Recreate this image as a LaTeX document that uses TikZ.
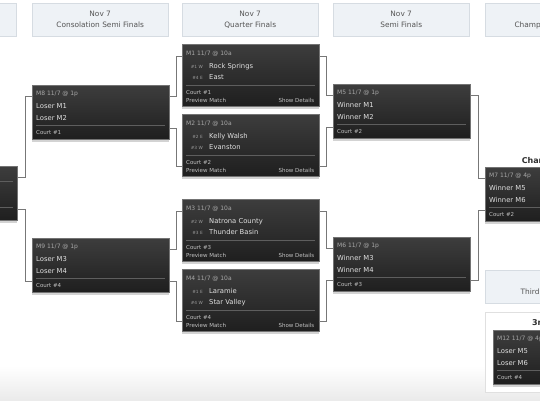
\documentclass[tikz,border=0pt]{standalone}
\usepackage{fontspec}
\setmainfont{DejaVu Sans}
\usetikzlibrary{shadows,positioning}
\definecolor{HeadFill}{HTML}{EEF2F6}
\definecolor{HeadLine}{HTML}{D6DCE2}
\definecolor{HeadText}{HTML}{555555}
\definecolor{Wire}{HTML}{777777}
\definecolor{InfoText}{HTML}{A8A8A8}
\definecolor{TeamText}{HTML}{E0E0E0}
\definecolor{SeedText}{HTML}{9C9C9C}
\definecolor{NoteText}{HTML}{C2C2C2}

\begin{document}
\begin{tikzpicture}[x=1pt,y=-1pt,
			rnd/.style={draw=HeadLine,fill=HeadFill,anchor=north west,minimum width=136pt,
				minimum height=33pt,inner sep=0pt,align=center,text=HeadText,
				font=\fontsize{7.4}{11}\selectfont},
			game/.style={draw=black!55,top color=black!76,bottom color=black!88,anchor=north west,
				minimum width=137pt,minimum height=54pt,inner sep=0pt,
				drop shadow={shadow xshift=0pt,shadow yshift=-2.5pt,opacity=0.35}},
			tall/.style={game,minimum height=62pt},
			info/.style={anchor=base west,inner sep=0pt,text=InfoText,font=\fontsize{6}{7}\selectfont},
			team/.style={anchor=base west,inner sep=0pt,text=TeamText,font=\fontsize{6.8}{8}\selectfont},
			seed/.style={anchor=base east,inner sep=0pt,text=SeedText,font=\fontsize{4.3}{5}\selectfont},
			note/.style={anchor=base west,inner sep=0pt,text=NoteText,font=\fontsize{5.5}{6}\selectfont},
			title/.style={inner sep=0pt,text=black!82,font=\fontsize{8}{9}\selectfont\bfseries},
			rule/.style={draw=black!63,line width=0.5pt},
			wire/.style={draw=Wire,line width=0.8pt}]
			\useasboundingbox (0,0) rectangle (540,400);
			\clip (0,0) rectangle (540,400);
			\shade[top color=white,bottom color=black!8] (0,366) rectangle (540,400);
			% round headers
			\node[rnd] (h1) at (-120,3) {};
			\node[rnd] (h2) at (32,3) {Nov 7\\Consolation Semi Finals};
			\node[rnd] (h3) at (182,3) {Nov 7\\Quarter Finals};
			\node[rnd] (h4) at (333,3) {Nov 7\\Semi Finals};
			\node[rnd] (h5) at (485,3) {Nov 7\\Championship Game};
			\node[rnd] (h6) at (485,270) {Nov 7\\Third Place Game};
			% consolation final (cut off)
			\node[game] (mc) at (-120,166) {};
			\draw[rule] ([yshift=-15pt]mc.north west) -- ([shift={(-4,15)}]mc.north east);
			\draw[rule] ([yshift=-41pt]mc.north west) -- ([shift={(-4,41)}]mc.north east);
			% consolation semis
			\node[game] (m8) at (32,85) {};
			\node[info] (m8i) at ([shift={(4,10.2)}]m8.north west) {M8 11/7 @ 1p};
			\node[team] (m8a) at ([shift={(4,23.5)}]m8.north west) {Loser M1};
			\node[team] (m8b) at ([shift={(4,35)}]m8.north west) {Loser M2};
			\draw[rule] ([shift={(4,40)}]m8.north west) -- ([shift={(-4,40)}]m8.north east);
			\node[note] (m8c) at ([shift={(4,49)}]m8.north west) {Court \#1};
			\node[game] (m9) at (32,238) {};
			\node[info] (m9i) at ([shift={(4,10.2)}]m9.north west) {M9 11/7 @ 1p};
			\node[team] (m9a) at ([shift={(4,23.5)}]m9.north west) {Loser M3};
			\node[team] (m9b) at ([shift={(4,35)}]m9.north west) {Loser M4};
			\draw[rule] ([shift={(4,40)}]m9.north west) -- ([shift={(-4,40)}]m9.north east);
			\node[note] (m9c) at ([shift={(4,49)}]m9.north west) {Court \#4};
			% quarter finals
			\node[tall] (m1) at (182,44) {};
			\node[info] (m1i) at ([shift={(4,11.3)}]m1.north west) {M1 11/7 @ 10a};
			\node[seed] (m1s) at ([shift={(21,24.5)}]m1.north west) {\#1 W};
			\node[team] (m1a) at ([shift={(27,24.5)}]m1.north west) {Rock Springs};
			\node[seed] (m1t) at ([shift={(21,35.5)}]m1.north west) {\#4 E};
			\node[team] (m1b) at ([shift={(27,35.5)}]m1.north west) {East};
			\draw[rule] ([shift={(4,41)}]m1.north west) -- ([shift={(-4,41)}]m1.north east);
			\node[note] (m1c) at ([shift={(4,50)}]m1.north west) {Court \#1};
			\node[note] (m1p) at ([shift={(4,58)}]m1.north west) {Preview Match};
			\node[note,anchor=base east] (m1d) at ([shift={(-5,58)}]m1.north east) {Show Details};
			\node[tall] (m2) at (182,114) {};
			\node[info] (m2i) at ([shift={(4,11.3)}]m2.north west) {M2 11/7 @ 10a};
			\node[seed] (m2s) at ([shift={(21,24.5)}]m2.north west) {\#2 E};
			\node[team] (m2a) at ([shift={(27,24.5)}]m2.north west) {Kelly Walsh};
			\node[seed] (m2t) at ([shift={(21,35.5)}]m2.north west) {\#3 W};
			\node[team] (m2b) at ([shift={(27,35.5)}]m2.north west) {Evanston};
			\draw[rule] ([shift={(4,41)}]m2.north west) -- ([shift={(-4,41)}]m2.north east);
			\node[note] (m2c) at ([shift={(4,50)}]m2.north west) {Court \#2};
			\node[note] (m2p) at ([shift={(4,58)}]m2.north west) {Preview Match};
			\node[note,anchor=base east] (m2d) at ([shift={(-5,58)}]m2.north east) {Show Details};
			\node[tall] (m3) at (182,199) {};
			\node[info] (m3i) at ([shift={(4,11.3)}]m3.north west) {M3 11/7 @ 10a};
			\node[seed] (m3s) at ([shift={(21,24.5)}]m3.north west) {\#2 W};
			\node[team] (m3a) at ([shift={(27,24.5)}]m3.north west) {Natrona County};
			\node[seed] (m3t) at ([shift={(21,35.5)}]m3.north west) {\#3 E};
			\node[team] (m3b) at ([shift={(27,35.5)}]m3.north west) {Thunder Basin};
			\draw[rule] ([shift={(4,41)}]m3.north west) -- ([shift={(-4,41)}]m3.north east);
			\node[note] (m3c) at ([shift={(4,50)}]m3.north west) {Court \#3};
			\node[note] (m3p) at ([shift={(4,58)}]m3.north west) {Preview Match};
			\node[note,anchor=base east] (m3d) at ([shift={(-5,58)}]m3.north east) {Show Details};
			\node[tall] (m4) at (182,269) {};
			\node[info] (m4i) at ([shift={(4,11.3)}]m4.north west) {M4 11/7 @ 10a};
			\node[seed] (m4s) at ([shift={(21,24.5)}]m4.north west) {\#1 E};
			\node[team] (m4a) at ([shift={(27,24.5)}]m4.north west) {Laramie};
			\node[seed] (m4t) at ([shift={(21,35.5)}]m4.north west) {\#4 W};
			\node[team] (m4b) at ([shift={(27,35.5)}]m4.north west) {Star Valley};
			\draw[rule] ([shift={(4,41)}]m4.north west) -- ([shift={(-4,41)}]m4.north east);
			\node[note] (m4c) at ([shift={(4,50)}]m4.north west) {Court \#4};
			\node[note] (m4p) at ([shift={(4,58)}]m4.north west) {Preview Match};
			\node[note,anchor=base east] (m4d) at ([shift={(-5,58)}]m4.north east) {Show Details};
			% semi finals
			\node[game] (m5) at (333,84) {};
			\node[info] (m5i) at ([shift={(4,10.2)}]m5.north west) {M5 11/7 @ 1p};
			\node[team] (m5a) at ([shift={(4,23.5)}]m5.north west) {Winner M1};
			\node[team] (m5b) at ([shift={(4,35)}]m5.north west) {Winner M2};
			\draw[rule] ([shift={(4,40)}]m5.north west) -- ([shift={(-4,40)}]m5.north east);
			\node[note] (m5c) at ([shift={(4,49)}]m5.north west) {Court \#2};
			\node[game] (m6) at (333,237) {};
			\node[info] (m6i) at ([shift={(4,10.2)}]m6.north west) {M6 11/7 @ 1p};
			\node[team] (m6a) at ([shift={(4,23.5)}]m6.north west) {Winner M3};
			\node[team] (m6b) at ([shift={(4,35)}]m6.north west) {Winner M4};
			\draw[rule] ([shift={(4,40)}]m6.north west) -- ([shift={(-4,40)}]m6.north east);
			\node[note] (m6c) at ([shift={(4,49)}]m6.north west) {Court \#3};
			% championship
			\node[game] (m7) at (485,167) {};
			\node[title,above=2pt of m7] (champ) {Championship};
			\node[info] (m7i) at ([shift={(4,10.2)}]m7.north west) {M7 11/7 @ 4p};
			\node[team] (m7a) at ([shift={(4,23.5)}]m7.north west) {Winner M5};
			\node[team] (m7b) at ([shift={(4,35)}]m7.north west) {Winner M6};
			\draw[rule] ([shift={(4,40)}]m7.north west) -- ([shift={(-4,40)}]m7.north east);
			\node[note] (m7c) at ([shift={(4,49)}]m7.north west) {Court \#2};
			% third place
			\node[draw=black!12,fill=white,anchor=north west,minimum width=136pt,
				minimum height=80pt] (tp) at (485,312) {};
			\node[title,anchor=base] (third) at ([yshift=-13pt]tp.north) {3rd Place};
			\node[game] (m12) at (493,330) {};
			\node[info] (m12i) at ([shift={(4,10.2)}]m12.north west) {M12 11/7 @ 4p};
			\node[team] (m12a) at ([shift={(4,23.5)}]m12.north west) {Loser M5};
			\node[team] (m12b) at ([shift={(4,35)}]m12.north west) {Loser M6};
			\draw[rule] ([shift={(4,40)}]m12.north west) -- ([shift={(-4,40)}]m12.north east);
			\node[note] (m12c) at ([shift={(4,49)}]m12.north west) {Court \#4};
			% connectors
			\draw[wire] ([yshift=-11pt]mc.north east) -- ++(7.5,0) |- ([yshift=-11pt]m8.north west);
			\draw[wire] ([yshift=-43pt]mc.north east) -- ++(7.5,0) |- ([yshift=-43pt]m9.north west);
			\draw[wire] ([yshift=-11pt]m8.north east) -- ++(7,0) |- ([yshift=-12pt]m1.north west);
			\draw[wire] ([yshift=-43pt]m8.north east) -- ++(7,0) |- ([yshift=-52pt]m2.north west);
			\draw[wire] ([yshift=-11pt]m9.north east) -- ++(7,0) |- ([yshift=-12pt]m3.north west);
			\draw[wire] ([yshift=-43pt]m9.north east) -- ++(7,0) |- ([yshift=-52pt]m4.north west);
			\draw[wire] ([yshift=-12pt]m1.north east) -- ++(7,0) |- ([yshift=-11pt]m5.north west);
			\draw[wire] ([yshift=-52pt]m2.north east) -- ++(7,0) |- ([yshift=-43pt]m5.north west);
			\draw[wire] ([yshift=-12pt]m3.north east) -- ++(7,0) |- ([yshift=-11pt]m6.north west);
			\draw[wire] ([yshift=-52pt]m4.north east) -- ++(7,0) |- ([yshift=-43pt]m6.north west);
			\draw[wire] ([yshift=-11pt]m5.north east) -- ++(7.5,0) |- ([yshift=-11pt]m7.north west);
			\draw[wire] ([yshift=-43pt]m6.north east) -- ++(7.5,0) |- ([yshift=-43pt]m7.north west);
		\end{tikzpicture}
\end{document}
